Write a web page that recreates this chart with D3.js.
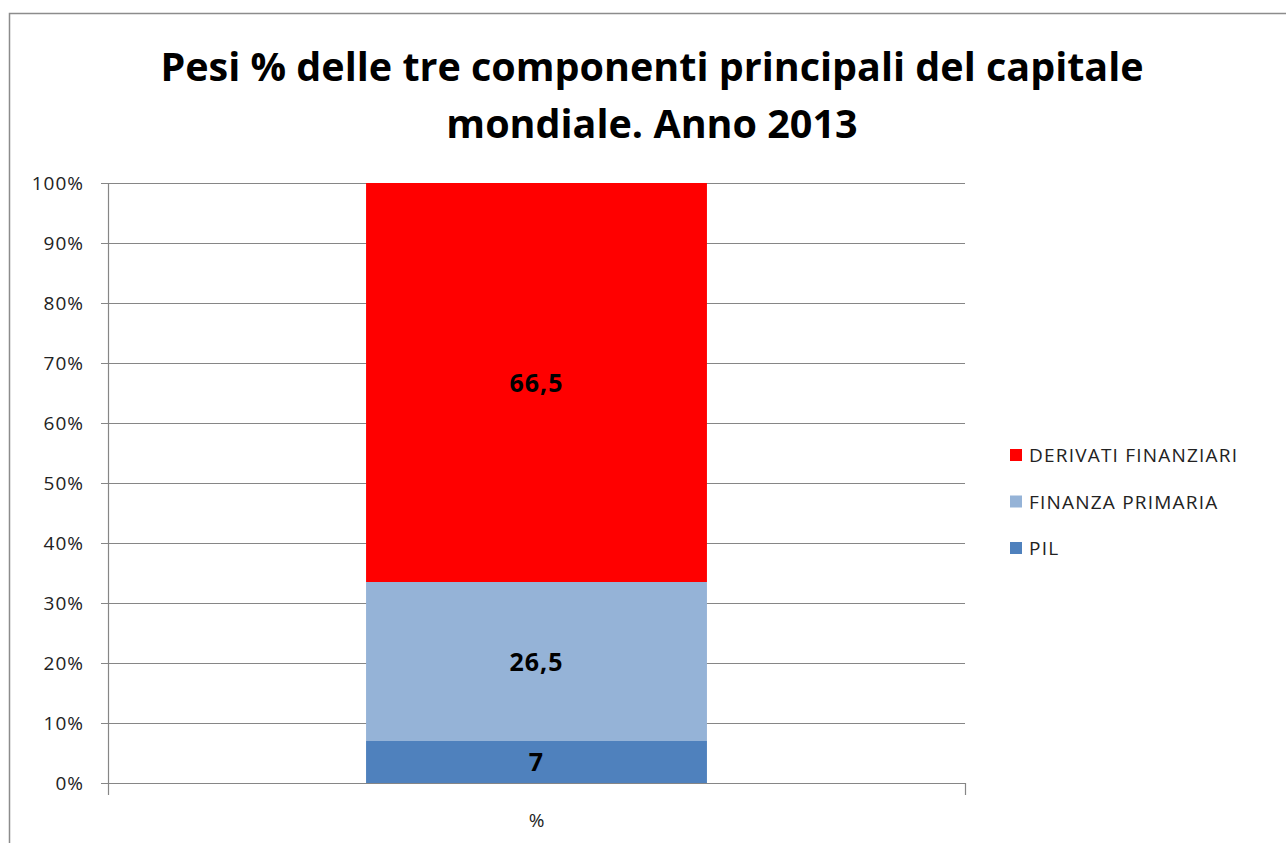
<!doctype html>
<html lang="it">
<head>
<meta charset="UTF-8">
<title>Pesi % delle tre componenti principali del capitale mondiale</title>
<script src="https://d3js.org/d3.v7.min.js"></script>
<style>
  body { margin: 0; background: #fff; }
  svg { display: block; font-family: "Open Sans", "Noto Sans", sans-serif; }
</style>
</head>
<body>
<svg id="chart" width="1286" height="843"></svg>
<script>
// ---- data ----
const categories = ["%"];
const seriesNames = ["PIL", "FINANZA PRIMARIA", "DERIVATI FINANZIARI"];
const seriesValues = [7, 26.5, 66.5];
const seriesColors = ["#4F81BD", "#95B3D7", "#FF0000"];
const yTicks = [0, 10, 20, 30, 40, 50, 60, 70, 80, 90, 100];
const titleLines = ["Pesi % delle tre componenti principali del capitale", "mondiale. Anno 2013"];

const svg = d3.select("#chart");

// outer chart border
svg.append("rect")
  .attr("x", 9.5).attr("y", 13.5)
  .attr("width", 1300).attr("height", 900)
  .attr("fill", "none").attr("stroke", "#8c8c8c").attr("stroke-width", 1.5);

// title
svg.append("g").selectAll("text").data(titleLines).enter().append("text")
  .attr("x", 652).attr("y", (d, i) => 81 + i * 57)
  .attr("text-anchor", "middle")
  .style("font-size", "39.5px").style("font-weight", "bold").style("fill", "#000")
  .text(d => d);

// scales
const margin = { left: 108, right: 965, top: 183, bottom: 783 };
const x = d3.scaleBand().domain(categories).range([margin.left, margin.right]).paddingInner(0).paddingOuter(0.757);
const y = d3.scaleLinear().domain([0, 100]).range([margin.bottom, margin.top]);

// gridlines
svg.append("g").selectAll("line").data(yTicks).enter().append("line")
  .attr("x1", margin.left - 7).attr("x2", margin.right)
  .attr("y1", d => y(d) + 0.5).attr("y2", d => y(d) + 0.5)
  .attr("stroke", "#868686").attr("stroke-width", 1.2);

// y axis line
svg.append("line")
  .attr("x1", margin.left + 0.5).attr("x2", margin.left + 0.5)
  .attr("y1", margin.top).attr("y2", margin.bottom + 12)
  .attr("stroke", "#868686").attr("stroke-width", 1.2);
// right category boundary tick
svg.append("line")
  .attr("x1", margin.right + 0.5).attr("x2", margin.right + 0.5)
  .attr("y1", margin.bottom).attr("y2", margin.bottom + 12)
  .attr("stroke", "#868686").attr("stroke-width", 1.2);

// y tick labels
svg.append("g").selectAll("text").data(yTicks).enter().append("text")
  .attr("x", 84).attr("y", d => y(d) + 7)
  .attr("text-anchor", "end")
  .style("font-size", "19px").style("letter-spacing", "1px").style("fill", "#222")
  .text(d => d + "%");

// stacked bars
const stack = [];
let base = 0;
seriesValues.forEach((v, i) => {
  stack.push({ name: seriesNames[i], value: v, y0: base, y1: base + v, color: seriesColors[i] });
  base += v;
});

const bx = x(categories[0]);
const bw = x.bandwidth();
svg.append("g").selectAll("rect").data(stack).enter().append("rect")
  .attr("x", bx).attr("width", bw)
  .attr("y", d => y(d.y1)).attr("height", d => y(d.y0) - y(d.y1))
  .attr("fill", d => d.color);

// data labels
svg.append("g").selectAll("text").data(stack).enter().append("text")
  .attr("x", bx + bw / 2)
  .attr("y", d => (y(d.y0) + y(d.y1)) / 2 + 9)
  .attr("text-anchor", "middle")
  .style("font-size", "25px").style("font-weight", "bold").style("letter-spacing", "1px").style("fill", "#000")
  .text(d => String(d.value).replace(".", ","));

// category label
svg.append("text")
  .attr("x", bx + bw / 2).attr("y", 827)
  .attr("text-anchor", "middle")
  .style("font-size", "19px").style("fill", "#222")
  .text(categories[0]);

// legend (reverse order)
const legendData = stack.slice().reverse();
const legend = svg.append("g").selectAll("g").data(legendData).enter().append("g")
  .attr("transform", (d, i) => `translate(1010, ${455 + i * 46.5})`);
legend.append("rect")
  .attr("x", 0).attr("y", -6).attr("width", 12).attr("height", 12)
  .attr("fill", d => d.color);
legend.append("text")
  .attr("x", 19).attr("y", 7)
  .style("font-size", "19px").style("letter-spacing", "1.2px").style("fill", "#222")
  .text(d => d.name);
</script>
</body>
</html>
